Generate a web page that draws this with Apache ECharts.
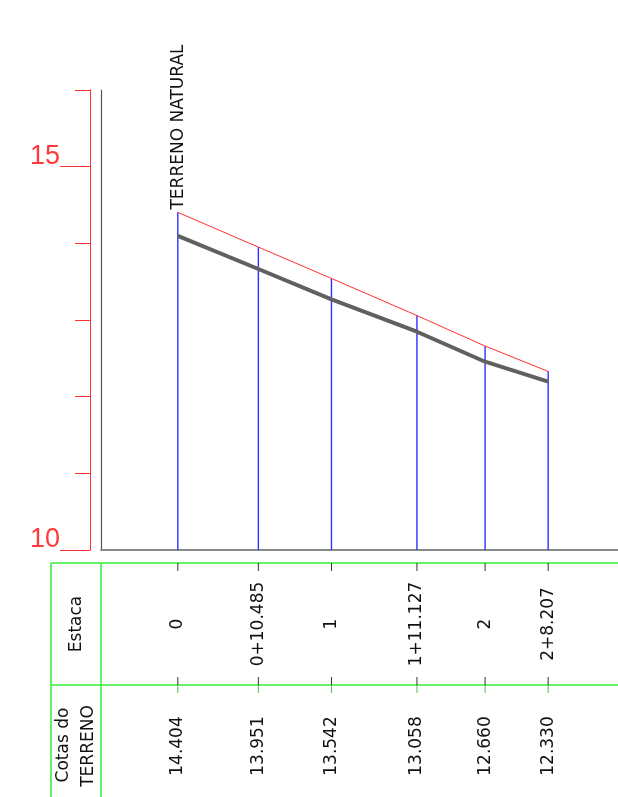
<!DOCTYPE html>
<html>
<head>
<meta charset="utf-8">
<script src="https://cdn.jsdelivr.net/npm/echarts@6/dist/echarts.min.js"></script>
<style>
html,body{margin:0;padding:0;background:#fff;}
#chart{width:618px;height:797px;}
</style>
</head>
<body>
<div id="chart"></div>
<script>
// ---- data ----
const distancias = [0, 10.485, 20, 31.127, 40, 48.207];
const estacas = ['0', '0+10.485', '1', '1+11.127', '2', '2+8.207'];
const cotasTerreno = [14.404, 13.951, 13.542, 13.058, 12.660, 12.330];
const linhaCinza = [14.096, 13.665, 13.270, 12.847, 12.456, 12.195];
const yTicksMaiores = [10, 15];
const yTicksMenores = [11, 12, 13, 14, 16];
const tituloSerie = 'TERRENO NATURAL';
const cabecalhoEstaca = 'Estaca';
const cabecalhoCotas = ['Cotas do', 'TERRENO'];

// ---- layout ----
const Y_MIN = 10, Y_MAX = 16;
const X_MIN = -10, X_MAX = 57.3;
const GREEN = '#33ee33';
const TABLE_TOP = 563, TABLE_MID = 685, TABLE_BOTTOM = 797;
const FONT = "'DejaVu Sans', sans-serif";
const FS = '17px ';

const terrenoData = distancias.map((d, i) => [d, cotasTerreno[i]]);
const cinzaData = distancias.map((d, i) => [d, linhaCinza[i]]);
const estacaData = distancias.map((d, i) => [d, cotasTerreno[i], i]);

const chart = echarts.init(document.getElementById('chart'), null, {renderer: 'canvas'});

const yBase = {
  type: 'value', min: Y_MIN, max: Y_MAX, position: 'left',
  splitLine: {show: false}
};

chart.setOption({
  animation: false,
  backgroundColor: '#ffffff',
  grid: {left: 101, right: 0, top: 90, bottom: 247, containLabel: false},
  xAxis: {
    type: 'value', min: X_MIN, max: X_MAX,
    axisLine: {show: true, onZero: false, lineStyle: {color: '#8a8a8a', width: 2}},
    axisTick: {show: false}, axisLabel: {show: false}, splitLine: {show: false}
  },
  yAxis: [
    Object.assign({}, yBase, {
      offset: 0,
      axisLine: {show: true, onZero: false, lineStyle: {color: '#555555', width: 1.2}},
      axisTick: {show: false}, axisLabel: {show: false}
    }),
    Object.assign({}, yBase, {
      offset: 11,
      axisLine: {show: true, onZero: false, lineStyle: {color: '#ff3030', width: 1}},
      axisTick: {show: true, customValues: yTicksMenores, length: 15, lineStyle: {color: '#ff3030', width: 1}},
      axisLabel: {show: false}
    }),
    Object.assign({}, yBase, {
      offset: 11,
      axisLine: {show: true, onZero: false, lineStyle: {color: '#ff3030', width: 1}},
      axisTick: {show: true, customValues: yTicksMaiores, length: 30, lineStyle: {color: '#ff3030', width: 1}},
      axisLabel: {
        show: true, customValues: yTicksMaiores, margin: 30,
        color: '#ff3a3a', fontSize: 27, fontFamily: "'Liberation Sans Narrow','Liberation Sans',sans-serif",
        verticalAlign: 'bottom', lineHeight: 20
      }
    })
  ],
  series: [
    {
      name: 'estacas', type: 'custom', data: estacaData, clip: false, z: 1,
      renderItem: function (params, api) {
        const d = api.value(0), v = api.value(1), i = api.value(2);
        const top = api.coord([d, v]);
        const base = api.coord([d, Y_MIN]);
        const x = base[0];
        return {
          type: 'group',
          children: [
            {type: 'line', shape: {x1: x, y1: top[1], x2: x, y2: base[1]}, style: {stroke: '#3030ff', lineWidth: 1.4}},
            {type: 'line', shape: {x1: x, y1: TABLE_TOP, x2: x, y2: TABLE_TOP + 8}, style: {stroke: '#333333', lineWidth: 1}},
            {type: 'line', shape: {x1: x, y1: TABLE_MID - 8, x2: x, y2: TABLE_MID}, style: {stroke: '#333333', lineWidth: 1}},
            {type: 'line', shape: {x1: x, y1: TABLE_MID, x2: x, y2: TABLE_MID + 8}, style: {stroke: '#55bb55', lineWidth: 1}},
            {type: 'text', x: x, y: 624, rotation: Math.PI / 2,
              style: {text: estacas[i], fill: '#111', font: FS + FONT, align: 'center', verticalAlign: 'middle'}},
            {type: 'text', x: x, y: 746, rotation: Math.PI / 2,
              style: {text: cotasTerreno[i].toFixed(3), fill: '#111', font: FS + FONT, align: 'center', verticalAlign: 'middle'}}
          ]
        };
      }
    },
    {
      name: 'Terreno natural', type: 'line', data: terrenoData, z: 3,
      symbol: 'none', lineStyle: {color: '#ff3030', width: 1}
    },
    {
      name: 'Linha', type: 'line', data: cinzaData, z: 4,
      symbol: 'none', lineStyle: {color: '#606060', width: 4}
    }
  ],
  graphic: [
    {type: 'line', shape: {x1: 51, y1: TABLE_TOP, x2: 618, y2: TABLE_TOP}, style: {stroke: GREEN, lineWidth: 1.5}},
    {type: 'line', shape: {x1: 51, y1: TABLE_MID, x2: 618, y2: TABLE_MID}, style: {stroke: GREEN, lineWidth: 1.5}},
    {type: 'line', shape: {x1: 51, y1: TABLE_TOP, x2: 51, y2: TABLE_BOTTOM}, style: {stroke: GREEN, lineWidth: 1.5}},
    {type: 'line', shape: {x1: 101, y1: TABLE_TOP, x2: 101, y2: TABLE_BOTTOM}, style: {stroke: GREEN, lineWidth: 1.5}},
    {type: 'text', x: 77, y: 624, rotation: Math.PI / 2,
      style: {text: cabecalhoEstaca, fill: '#111', font: FS + FONT, align: 'center', verticalAlign: 'middle'}},
    {type: 'text', x: 64, y: 745, rotation: Math.PI / 2,
      style: {text: cabecalhoCotas[0], fill: '#111', font: FS + FONT, align: 'center', verticalAlign: 'middle'}},
    {type: 'text', x: 89, y: 746, rotation: Math.PI / 2,
      style: {text: cabecalhoCotas[1], fill: '#111', font: FS + FONT, align: 'center', verticalAlign: 'middle'}},
    {type: 'text', x: 179, y: 127, rotation: Math.PI / 2,
      style: {text: tituloSerie, fill: '#111', font: FS + FONT, align: 'center', verticalAlign: 'middle'}}
  ]
});
</script>
</body>
</html>
